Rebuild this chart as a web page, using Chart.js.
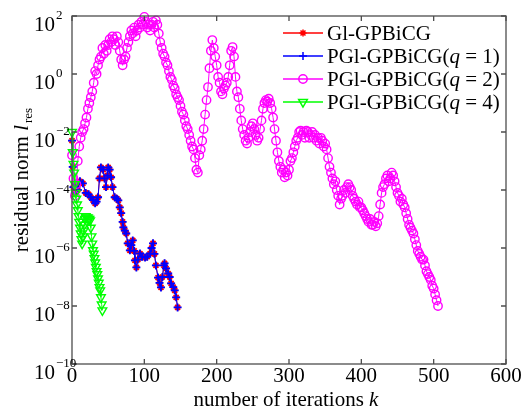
<!DOCTYPE html>
<html>
<head>
<meta charset="utf-8">
<script src="https://cdn.jsdelivr.net/npm/chart.js@4.4.1/dist/chart.umd.min.js"></script>
<style>
  html, body { margin: 0; padding: 0; background: #fff; }
  #wrap { width: 525px; height: 409px; position: relative; }
</style>
</head>
<body>
<div id="wrap"><canvas id="chart"></canvas></div>
<script>
// axis ticks
const xTicks = [0, 100, 200, 300, 400, 500, 600];
const yExponents = [2, 0, -2, -4, -6, -8, -10];

// Gl-GPBiCG
const glK = [0, 1, 2, 4, 6, 8, 11, 15, 19, 23, 26, 29, 32, 34, 36, 38, 40, 43, 45, 47, 49, 50, 52, 54, 56, 59, 62, 64, 66, 68, 70, 71, 73, 75, 77, 80, 82, 84, 86, 87, 89, 91, 94, 97, 101, 104, 108, 110, 112, 114, 116, 119, 121, 123, 125, 127, 128, 130, 133, 135, 137, 140, 142, 144, 146];
const glLogRes = [-2.3, -3.2, -3.9, -4.1, -3.9, -4.0, -3.7, -3.77, -4.1, -4.15, -4.25, -4.35, -4.46, -4.4, -4.25, -3.6, -3.22, -3.3, -3.6, -3.9, -3.5, -3.22, -3.3, -3.56, -3.9, -4.25, -4.3, -4.36, -4.6, -4.8, -5.1, -5.29, -5.4, -5.5, -5.84, -6.08, -5.9, -5.74, -6.1, -6.43, -6.67, -6.4, -6.19, -6.3, -6.33, -6.3, -6.19, -6.0, -5.84, -6.2, -6.6, -7.02, -7.2, -7.36, -7.0, -6.6, -6.53, -6.7, -6.88, -7.0, -7.22, -7.35, -7.46, -7.7, -8.05];

// PGl-GPBiCG(q=1)
const pgl1K = [0, 1, 2, 4, 6, 8, 11, 15, 19, 23, 26, 29, 32, 34, 36, 38, 40, 43, 45, 47, 49, 50, 52, 54, 56, 59, 62, 64, 66, 68, 70, 71, 73, 75, 77, 80, 82, 84, 86, 87, 89, 91, 94, 97, 101, 104, 108, 110, 112, 114, 116, 119, 121, 123, 125, 127, 128, 130, 133, 135, 137, 140, 142, 144, 146];
const pgl1LogRes = [-2.3, -3.2, -3.9, -4.1, -3.9, -4.0, -3.7, -3.77, -4.1, -4.15, -4.25, -4.35, -4.46, -4.4, -4.25, -3.6, -3.22, -3.3, -3.6, -3.9, -3.5, -3.22, -3.3, -3.56, -3.9, -4.25, -4.3, -4.36, -4.6, -4.8, -5.1, -5.29, -5.4, -5.5, -5.84, -6.08, -5.9, -5.74, -6.1, -6.43, -6.67, -6.4, -6.19, -6.3, -6.33, -6.3, -6.19, -6.0, -5.84, -6.2, -6.6, -7.02, -7.2, -7.36, -7.0, -6.6, -6.53, -6.7, -6.88, -7.0, -7.22, -7.35, -7.46, -7.7, -8.05];

// PGl-GPBiCG(q=2), read every 2 iterations from k = 0
const pgl2Step = 2;
const pgl2LogRes = [
  -2.8, -3.6, -4.2, -3.8, -3.0, -2.5, -2.2, -2.0, -1.9, -1.7,
  -1.5, -1.2, -1.0, -0.8, -0.6, -0.3, 0.1, 0.0, 0.3, 0.5,
  0.6, 0.9, 0.7, 1.0, 0.8, 1.0, 1.2, 1.1, 1.3, 1.2,
  1.0, 1.3, 1.1, 0.8, 0.5, 0.3, 0.5, 0.6, 0.9, 1.1,
  1.3, 1.5, 1.4, 1.6, 1.3, 1.5, 1.7, 1.6, 1.8, 1.7,
  1.97, 1.8, 1.6, 1.7, 1.5, 1.7, 1.8, 1.6, 1.85, 1.7,
  1.4, 1.1, 0.9, 0.7, 0.6, 0.4, 0.3, 0.1, -0.1, -0.2,
  -0.4, -0.5, -0.7, -0.8, -0.9, -1.1, -1.3, -1.4, -1.6, -1.8,
  -1.9, -2.1, -2.3, -2.5, -2.6, -2.9, -3.3, -3.4, -2.8, -2.6,
  -2.3, -1.9, -1.4, -0.9, -0.45, 0.2, 0.8, 1.17, 0.9, 0.6,
  0.3, -0.1, -0.3, -0.6, -0.7, -0.5, -0.4, -0.3, -0.1, 0.3,
  0.8, 0.93, 0.6, -0.1, -0.6, -0.8, -1.2, -1.6, -1.9, -2.1,
  -2.3, -2.4, -2.2, -2.0, -1.8, -1.7, -1.9, -2.1, -2.3, -2.2,
  -1.9, -1.6, -1.2, -1.0, -0.9, -0.95, -0.85, -1.0, -1.2, -1.5,
  -1.9, -2.3, -2.7, -3.0, -3.2, -3.4, -3.3, -3.56, -3.4, -3.5,
  -3.3, -3.0, -2.9, -2.7, -2.5, -2.3, -2.2, -2.0, -1.95, -2.1,
  -2.0, -2.2, -1.95, -2.0, -2.2, -2.1, -2.0, -2.2, -2.1, -2.3,
  -2.2, -2.4, -2.2, -2.3, -2.5, -2.4, -2.6, -2.9, -3.2, -3.4,
  -3.6, -3.8, -3.7, -4.0, -4.2, -4.5, -4.3, -4.2, -4.0, -4.1,
  -3.9, -3.8, -3.9, -4.0, -4.2, -4.3, -4.4, -4.5, -4.4, -4.6,
  -4.6, -4.7, -4.8, -4.9, -5.0, -5.1, -5.0, -5.2, -5.2, -5.1,
  -5.25, -5.15, -4.9, -4.5, -4.1, -3.9, -3.8, -3.6, -3.5, -3.7,
  -3.6, -3.4, -3.5, -3.7, -3.9, -4.1, -4.2, -4.4, -4.3, -4.5,
  -4.6, -4.8, -5.0, -5.2, -5.3, -5.4, -5.5, -5.7, -5.9, -6.1,
  -6.2, -6.3, -6.4, -6.4, -6.6, -6.8, -6.9, -7.0, -7.1, -7.3,
  -7.4, -7.6, -7.8, -8.0
];

// PGl-GPBiCG(q=4), every iteration from k = 0
const pgl4LogRes = [
  -2.0, -2.7, -3.1, -3.4, -3.8, -4.1, -4.3, -4.5, -4.7, -4.9,
  -5.1, -5.3, -5.5, -5.7, -5.85, -5.6, -5.4, -5.2, -5.0, -4.9,
  -4.95, -5.1, -4.95, -5.0, -5.0, -5.05, -5.3, -5.6, -5.85, -6.08,
  -6.2, -6.35, -6.5, -6.65, -6.8, -6.9, -7.05, -7.2, -7.35, -7.46,
  -7.7, -7.95, -8.15
];

const serif = '"Liberation Serif", "Times New Roman", serif';

function pairs(ks, logs) {
  return ks.map((k, i) => ({ x: k, y: Math.pow(10, logs[i]) }));
}

const pgl2K = pgl2LogRes.map((_, i) => i * pgl2Step);
const pgl4K = pgl4LogRes.map((_, i) => i);

const series = [
  { label: 'Gl-GPBiCG', q: null, k: glK, v: glLogRes, color: '#ff0000', style: 'star', radius: 3.5, bw: 1.8, order: 4 },
  { label: 'PGl-GPBiCG(', q: '1', k: pgl1K, v: pgl1LogRes, color: '#0000ff', style: 'cross', radius: 4, bw: 1.8, order: 3 },
  { label: 'PGl-GPBiCG(', q: '2', k: pgl2K, v: pgl2LogRes, color: '#ff00ff', style: 'circle', radius: 4.2, bw: 1.4, order: 2 },
  { label: 'PGl-GPBiCG(', q: '4', k: pgl4K, v: pgl4LogRes, color: '#00ff00', style: 'triangle', radius: 5, rotation: 180, bw: 1.4, order: 1 }
];

// box, inward ticks, tick labels, axis titles and legend
const decorations = {
  id: 'decorations',
  afterDraw(chart) {
    const { ctx, chartArea: a, scales: { x, y } } = chart;
    ctx.save();
    ctx.strokeStyle = '#4d4d4d';
    ctx.lineWidth = 1.3;
    ctx.strokeRect(a.left, a.top, a.right - a.left, a.bottom - a.top);

    ctx.beginPath();
    xTicks.forEach(v => {
      const px = x.getPixelForValue(v);
      ctx.moveTo(px, a.bottom); ctx.lineTo(px, a.bottom - 5);
      ctx.moveTo(px, a.top); ctx.lineTo(px, a.top + 5);
    });
    yExponents.forEach(e => {
      const py = y.getPixelForValue(Math.pow(10, e));
      ctx.moveTo(a.left, py); ctx.lineTo(a.left + 5, py);
      ctx.moveTo(a.right, py); ctx.lineTo(a.right - 5, py);
    });
    ctx.stroke();

    ctx.fillStyle = '#000';
    ctx.textBaseline = 'alphabetic';
    ctx.font = '21px ' + serif;
    ctx.textAlign = 'center';
    xTicks.forEach(v => {
      ctx.fillText(String(v), x.getPixelForValue(v), a.bottom + 18);
    });

    yExponents.forEach(e => {
      const py = y.getPixelForValue(Math.pow(10, e));
      ctx.font = '21px ' + serif;
      ctx.textAlign = 'right';
      ctx.fillText('10', a.left - 17, py + 15);
      ctx.font = '13px ' + serif;
      ctx.textAlign = 'left';
      ctx.fillText(e < 0 ? '\u2212' + (-e) : String(e), a.left - 16, py + 3);
    });

    // x title
    const xt1 = 'number of iterations ';
    ctx.font = 'italic 21px ' + serif;
    const wk = ctx.measureText('k').width;
    ctx.font = '21px ' + serif;
    const w1 = ctx.measureText(xt1).width;
    const sx = 286 - (w1 + wk) / 2;
    ctx.textAlign = 'left';
    ctx.fillText(xt1, sx, 406);
    ctx.font = 'italic 21px ' + serif;
    ctx.fillText('k', sx + w1, 406);

    // y title
    ctx.save();
    ctx.translate(28, 180);
    ctx.rotate(-Math.PI / 2);
    ctx.font = '21px ' + serif;
    const yt = 'residual norm ';
    const wy = ctx.measureText(yt).width;
    ctx.font = 'italic 21px ' + serif;
    const wl = ctx.measureText('l').width;
    ctx.font = '13px ' + serif;
    const wr = ctx.measureText('res').width;
    const ty = -(wy + wl + wr + 2) / 2;
    ctx.font = '21px ' + serif;
    ctx.fillText(yt, ty, 0);
    ctx.font = 'italic 21px ' + serif;
    ctx.fillText('l', ty + wy, 0);
    ctx.font = '13px ' + serif;
    ctx.fillText('res', ty + wy + wl + 2, 4);
    ctx.restore();

    // legend
    series.forEach((s, i) => {
      const cy = 33 + i * 23;
      ctx.strokeStyle = s.color;
      ctx.lineWidth = 1.5;
      ctx.beginPath();
      ctx.moveTo(283, cy); ctx.lineTo(323, cy);
      ctx.stroke();
      ctx.fillStyle = 'rgba(0,0,0,0)';
      Chart.helpers.drawPoint(ctx, { pointStyle: s.style, radius: s.radius, rotation: s.rotation || 0, borderWidth: 1.5 }, 303, cy);
      ctx.fillStyle = '#000';
      ctx.textAlign = 'left';
      let tx = 327;
      const by = cy + 7;
      ctx.font = '21px ' + serif;
      ctx.fillText(s.label, tx, by);
      if (s.q) {
        tx += ctx.measureText(s.label).width;
        ctx.font = 'italic 21px ' + serif;
        ctx.fillText('q', tx, by);
        tx += ctx.measureText('q').width;
        ctx.font = '21px ' + serif;
        ctx.fillText(' = ' + s.q + ')', tx, by);
      }
    });
    ctx.restore();
  }
};

new Chart(document.getElementById('chart'), {
  type: 'line',
  data: {
    datasets: series.map(s => ({
      label: s.label + (s.q ? 'q=' + s.q + ')' : ''),
      data: pairs(s.k, s.v),
      borderColor: s.color,
      backgroundColor: 'rgba(0,0,0,0)',
      pointBorderColor: s.color,
      pointBackgroundColor: 'rgba(0,0,0,0)',
      pointStyle: s.style,
      pointRadius: s.radius,
      pointRotation: s.rotation || 0,
      pointBorderWidth: s.bw,
      borderWidth: 1,
      tension: 0,
      clip: false,
      order: s.order
    }))
  },
  options: {
    responsive: true,
    maintainAspectRatio: false,
    animation: false,
    layout: { padding: { left: 72, right: 19, top: 16, bottom: 45 } },
    scales: {
      x: { type: 'linear', min: 0, max: 600, display: false },
      y: { type: 'logarithmic', min: 1e-10, max: 1e2, display: false }
    },
    plugins: {
      legend: { display: false },
      tooltip: { enabled: false }
    }
  },
  plugins: [decorations]
});
</script>
</body>
</html>
